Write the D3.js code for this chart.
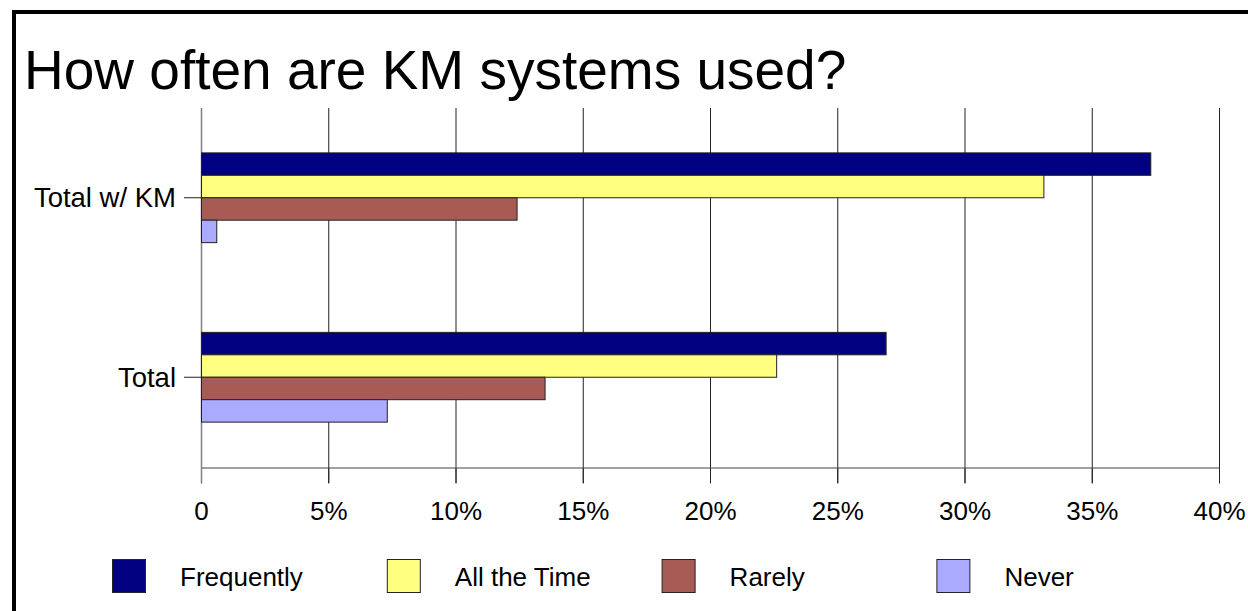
<!DOCTYPE html>
<html>
<head>
<meta charset="utf-8">
<script src="https://cdn.jsdelivr.net/npm/d3@7"></script>
<style>
  body { margin: 0; background: #fff; }
  svg { display: block; font-family: "Liberation Sans", Arial, sans-serif; }
</style>
</head>
<body>
<div id="chart"></div>
<script>
const categories = ["Total w/ KM", "Total"];
const series = ["Frequently", "All the Time", "Rarely", "Never"];
const colors = ["#000080", "#FFFF80", "#A85A55", "#AAAAFF"];
// percent values per category, in series order
const totalWithKM = [37.3, 33.1, 12.4, 0.6];
const totalAll = [26.9, 22.6, 13.5, 7.3];
const xTicks = [0, 5, 10, 15, 20, 25, 30, 35, 40];

const W = 1248, H = 611;
const plot = { left: 201, right: 1219, top: 108, bottom: 467 };

const rows = [
  { cat: categories[0], values: totalWithKM },
  { cat: categories[1], values: totalAll }
];

const svg = d3.select("#chart").append("svg")
  .attr("width", W)
  .attr("height", H);

// frame lines
svg.append("line")
  .attr("x1", 12).attr("x2", W).attr("y1", 12).attr("y2", 12)
  .attr("stroke", "#000").attr("stroke-width", 4);
svg.append("line")
  .attr("x1", 14).attr("x2", 14).attr("y1", 10).attr("y2", H)
  .attr("stroke", "#000").attr("stroke-width", 4);

// title
svg.append("text")
  .attr("x", 24).attr("y", 89)
  .style("font-size", "55px")
  .text("How often are KM systems used?");

const x = d3.scaleLinear()
  .domain([0, 40])
  .range([plot.left, plot.right]);

const y = d3.scaleBand()
  .domain(categories)
  .range([plot.top, plot.bottom]);

const yInner = d3.scaleBand()
  .domain(series)
  .range([y.bandwidth() * 0.25, y.bandwidth() * 0.75]);

// gridlines
svg.append("g")
  .selectAll("line")
  .data(xTicks.slice(1))
  .enter()
  .append("line")
  .attr("x1", d => x(d) + 0.5)
  .attr("x2", d => x(d) + 0.5)
  .attr("y1", plot.top)
  .attr("y2", plot.bottom + 16)
  .attr("stroke", "#222")
  .attr("stroke-width", 1);

// x axis
const xAxis = svg.append("g")
  .attr("transform", `translate(0,${plot.bottom + 0.5})`)
  .call(d3.axisBottom(x)
    .tickValues(xTicks)
    .tickSize(16)
    .tickSizeOuter(0)
    .tickFormat(d => d === 0 ? "0" : d + "%"));
xAxis.select(".domain").attr("stroke", "#808080").attr("stroke-width", 1.5);
xAxis.selectAll(".tick line").attr("stroke", "#222");
xAxis.selectAll(".tick text")
  .attr("y", 52)
  .attr("dy", null)
  .attr("fill", "#000")
  .style("font-size", "26px")
  .style("font-family", "'Liberation Sans', Arial, sans-serif");

// y axis line and category ticks
svg.append("line")
  .attr("x1", plot.left + 0.5).attr("x2", plot.left + 0.5)
  .attr("y1", plot.top).attr("y2", plot.bottom + 16)
  .attr("stroke", "#808080").attr("stroke-width", 1.5);

const yAxis = svg.append("g")
  .attr("transform", `translate(${plot.left},0)`)
  .call(d3.axisLeft(y).tickSize(17).tickSizeOuter(0).tickPadding(8));
yAxis.select(".domain").remove();
yAxis.selectAll(".tick line").attr("stroke", "#222");
yAxis.selectAll(".tick text")
  .attr("dy", "0.35em")
  .attr("fill", "#000")
  .style("font-size", "27.5px")
  .style("font-family", "'Liberation Sans', Arial, sans-serif");

// bars
const groups = svg.selectAll(".group")
  .data(rows)
  .enter()
  .append("g")
  .attr("class", "group")
  .attr("transform", d => `translate(0,${y(d.cat)})`);

groups.selectAll("rect")
  .data(d => d.values.map((v, i) => ({ key: series[i], value: v, color: colors[i] })))
  .enter()
  .append("rect")
  .attr("x", x(0) + 0.5)
  .attr("y", d => yInner(d.key))
  .attr("width", d => x(d.value) - x(0))
  .attr("height", yInner.bandwidth())
  .attr("fill", d => d.color)
  .attr("stroke", "#222")
  .attr("stroke-width", 1);

// legend
const legend = svg.append("g")
  .selectAll("g")
  .data(series)
  .enter()
  .append("g")
  .attr("transform", (d, i) => `translate(${112 + i * 274.8},559)`);

legend.append("rect")
  .attr("x", 0.5).attr("y", 0.5)
  .attr("width", 33).attr("height", 33)
  .attr("fill", (d, i) => colors[i])
  .attr("stroke", "#222");

legend.append("text")
  .attr("x", 68)
  .attr("y", 27)
  .style("font-size", "26px")
  .text(d => d);
</script>
</body>
</html>
